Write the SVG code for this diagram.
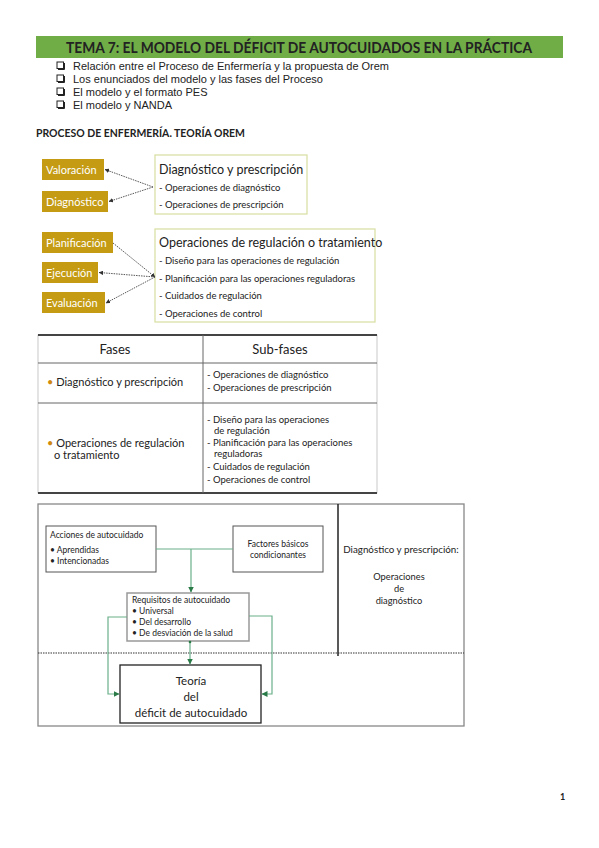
<svg xmlns="http://www.w3.org/2000/svg" width="599" height="848" viewBox="0 0 599 848">
<style>
.ar{font-family:"Liberation Sans",Arial,sans-serif;fill:#222}
.ca{font-family:Lato,"Open Sans",sans-serif;fill:#222}
.gold{fill:#c49b12}
.wt{font-family:Lato,"Open Sans",sans-serif;fill:#fff;font-size:11px}
.ybox{fill:#fff;stroke:#d8dea0;stroke-width:1.2}
.dot{stroke:#444;stroke-width:0.9;stroke-dasharray:1.5 1;fill:none}
.gl{stroke:#6ab08a;stroke-width:1.2;fill:none}
.bx{fill:#fff;stroke:#555;stroke-width:1}
.cb{fill:#fff;stroke:#222;stroke-width:1}
</style>
<defs>
<marker id="ad" viewBox="0 0 6 6" refX="5.5" refY="3" markerWidth="5" markerHeight="5" orient="auto"><path d="M0,0 L6,3 L0,6 z" fill="#333"/></marker>
<marker id="ag" viewBox="0 0 6 6" refX="5.5" refY="3" markerWidth="5" markerHeight="5" orient="auto"><path d="M0,0 L6,3 L0,6 z" fill="#2a7a48"/></marker>
</defs>
<rect width="599" height="848" fill="#fff"/>

<g id="title">
<rect x="36" y="36" width="527" height="22" fill="#70ad47"/>
<text x="299" y="53" text-anchor="middle" class="ca" font-weight="bold" font-size="15.5" textLength="466" lengthAdjust="spacingAndGlyphs" fill="#111">TEMA 7: EL MODELO DEL DÉFICIT DE AUTOCUIDADOS EN LA PRÁCTICA</text>
</g>

<g id="bullets">
<rect class="cb" x="57" y="62" width="6.5" height="6.5"/><path d="M58,69.5 h6.5 v-6.5" stroke="#222" fill="none"/>
<rect class="cb" x="57" y="75" width="6.5" height="6.5"/><path d="M58,82.5 h6.5 v-6.5" stroke="#222" fill="none"/>
<rect class="cb" x="57" y="88" width="6.5" height="6.5"/><path d="M58,95.5 h6.5 v-6.5" stroke="#222" fill="none"/>
<rect class="cb" x="57" y="101" width="6.5" height="6.5"/><path d="M58,108.5 h6.5 v-6.5" stroke="#222" fill="none"/>
<text class="ar" font-size="11" x="73" y="70" textLength="316" lengthAdjust="spacingAndGlyphs">Relación entre el Proceso de Enfermería y la propuesta de Orem</text>
<text class="ar" font-size="11" x="73" y="83" textLength="250" lengthAdjust="spacingAndGlyphs">Los enunciados del modelo y las fases del Proceso</text>
<text class="ar" font-size="11" x="73" y="96">El modelo y el formato PES</text>
<text class="ar" font-size="11" x="73" y="109">El modelo y NANDA</text>
</g>

<text id="heading" class="ca" font-weight="bold" font-size="11.5" x="36" y="137" textLength="209" lengthAdjust="spacingAndGlyphs" fill="#111">PROCESO DE ENFERMERÍA. TEORÍA OREM</text>

<g id="valoracion"><rect class="gold" x="42" y="159" width="62" height="21"/><text class="wt" x="46" y="174">Valoración</text></g>
<g id="diagnostico"><rect class="gold" x="42" y="191" width="66" height="21"/><text class="wt" x="46" y="206">Diagnóstico</text></g>
<g id="diag-presc">
<rect class="ybox" x="155" y="155" width="152" height="59"/>
<text class="ca" font-size="12.5" x="159" y="174">Diagnóstico y prescripción</text>
<text class="ca" font-size="9.5" x="159" y="191">- Operaciones de diagnóstico</text>
<text class="ca" font-size="9.5" x="159" y="208">- Operaciones de prescripción</text>
</g>

<g id="planificacion"><rect class="gold" x="42" y="232" width="71" height="21"/><text class="wt" x="46" y="247">Planificación</text></g>
<g id="ejecucion"><rect class="gold" x="42" y="262" width="56" height="21"/><text class="wt" x="46" y="277">Ejecución</text></g>
<g id="evaluacion"><rect class="gold" x="42" y="292" width="63" height="21"/><text class="wt" x="46" y="307">Evaluación</text></g>
<g id="regulacion">
<rect class="ybox" x="155" y="229" width="220" height="93"/>
<text class="ca" font-size="12.5" x="159" y="247">Operaciones de regulación o tratamiento</text>
<text class="ca" font-size="9.5" x="159" y="264">- Diseño para las operaciones de regulación</text>
<text class="ca" font-size="9.5" x="159" y="282">- Planificación para las operaciones reguladoras</text>
<text class="ca" font-size="9.5" x="159" y="299">- Cuidados de regulación</text>
<text class="ca" font-size="9.5" x="159" y="317">- Operaciones de control</text>
</g>

<g id="connectors-top">
<line class="dot" x1="153" y1="187" x2="105" y2="169.5" marker-end="url(#ad)"/>
<line class="dot" x1="153" y1="187" x2="109" y2="201.5" marker-end="url(#ad)"/>
<line class="dot" x1="113" y1="243" x2="155" y2="277" marker-end="url(#ad)"/>
<line class="dot" x1="155" y1="277" x2="99" y2="272.5" marker-end="url(#ad)"/>
<line class="dot" x1="155" y1="277" x2="106" y2="303" marker-end="url(#ad)"/>
</g>

<g id="table">
<rect x="38" y="335" width="339" height="158" fill="#fff" stroke="#bbb" stroke-width="0.8"/>
<line x1="38" y1="335" x2="377" y2="335" stroke="#444" stroke-width="2"/>
<line x1="38" y1="493" x2="377" y2="493" stroke="#444" stroke-width="2"/>
<line x1="38" y1="363" x2="377" y2="363" stroke="#666" stroke-width="1"/>
<line x1="38" y1="403" x2="377" y2="403" stroke="#666" stroke-width="1"/>
<line x1="203" y1="335" x2="203" y2="493" stroke="#666" stroke-width="1"/>
<text class="ca" font-size="13" x="115" y="354" text-anchor="middle">Fases</text>
<text class="ca" font-size="13" x="280" y="354" text-anchor="middle">Sub-fases</text>
<text class="ca" font-size="11" x="47" y="386"><tspan fill="#d08a10">•</tspan> Diagnóstico y prescripción</text>
<text class="ca" font-size="9.5" x="207" y="378">- Operaciones de diagnóstico</text>
<text class="ca" font-size="9.5" x="207" y="391">- Operaciones de prescripción</text>
<text class="ca" font-size="11" x="47" y="447"><tspan fill="#d08a10">•</tspan> Operaciones de regulación</text>
<text class="ca" font-size="11" x="54" y="459">o tratamiento</text>
<text class="ca" font-size="9.5" x="207" y="423">- Diseño para las operaciones</text>
<text class="ca" font-size="9.5" x="214" y="434">de regulación</text>
<text class="ca" font-size="9.5" x="207" y="446">- Planificación para las operaciones</text>
<text class="ca" font-size="9.5" x="214" y="457">reguladoras</text>
<text class="ca" font-size="9.5" x="207" y="470">- Cuidados de regulación</text>
<text class="ca" font-size="9.5" x="207" y="483">- Operaciones de control</text>
</g>

<g id="frame">
<rect x="38" y="504" width="426" height="222" fill="#fff" stroke="#888" stroke-width="1.3"/>
<line x1="338" y1="504" x2="338" y2="656" stroke="#222" stroke-width="1.5"/>
<line x1="38" y1="653" x2="464" y2="653" stroke="#333" stroke-width="1.2" stroke-dasharray="1.5 1"/>
</g>

<g id="acciones">
<rect class="bx" x="46" y="526" width="110" height="46"/>
<text class="ca" font-size="8.5" x="50" y="538">Acciones de autocuidado</text>
<text class="ca" font-size="8.5" x="50" y="553">• Aprendidas</text>
<text class="ca" font-size="8.5" x="50" y="564">• Intencionadas</text>
</g>
<g id="factores">
<rect class="bx" x="233" y="526" width="90" height="46"/>
<text class="ca" font-size="8.5" x="278" y="547" text-anchor="middle">Factores básicos</text>
<text class="ca" font-size="8.5" x="278" y="558" text-anchor="middle">condicionantes</text>
</g>
<g id="requisitos">
<rect x="127" y="593" width="122" height="48" fill="#fff" stroke="#999" stroke-width="1.5"/>
<text class="ca" font-size="8.5" x="132" y="603">Requisitos de autocuidado</text>
<text class="ca" font-size="8.5" x="132" y="614">• Universal</text>
<text class="ca" font-size="8.5" x="132" y="625">• Del desarrollo</text>
<text class="ca" font-size="8.5" x="132" y="636">• De desviación de la salud</text>
</g>
<g id="teoria">
<rect x="120" y="665" width="141" height="58" fill="#fff" stroke="#222" stroke-width="1.3"/>
<text class="ca" font-size="11.5" x="191" y="685" text-anchor="middle">Teoría</text>
<text class="ca" font-size="11.5" x="191" y="701" text-anchor="middle">del</text>
<text class="ca" font-size="11.5" x="191" y="717" text-anchor="middle">déficit de autocuidado</text>
</g>
<g id="diag-right">
<text class="ca" font-size="9.8" x="401" y="553" text-anchor="middle">Diagnóstico y prescripción:</text>
<text class="ca" font-size="9.3" x="399" y="580" text-anchor="middle">Operaciones</text>
<text class="ca" font-size="9.3" x="399" y="592" text-anchor="middle">de</text>
<text class="ca" font-size="9.3" x="399" y="604" text-anchor="middle">diagnóstico</text>
</g>

<g id="connectors">
<line class="gl" x1="156" y1="549" x2="233" y2="549"/>
<line class="gl" x1="191" y1="549" x2="191" y2="592" marker-end="url(#ag)"/>
<polyline class="gl" points="127,617 108,617 108,694 119,694" marker-end="url(#ag)"/>
<polyline class="gl" points="249,616 272,616 272,694 262,694" marker-end="url(#ag)"/>
<line class="gl" x1="190" y1="641" x2="190" y2="664" marker-end="url(#ag)"/>
<circle cx="190" cy="642" r="1.3" fill="#2a7a48"/>
</g>

<text id="page" class="ca" font-size="9" font-weight="bold" x="560" y="800">1</text>
</svg>
